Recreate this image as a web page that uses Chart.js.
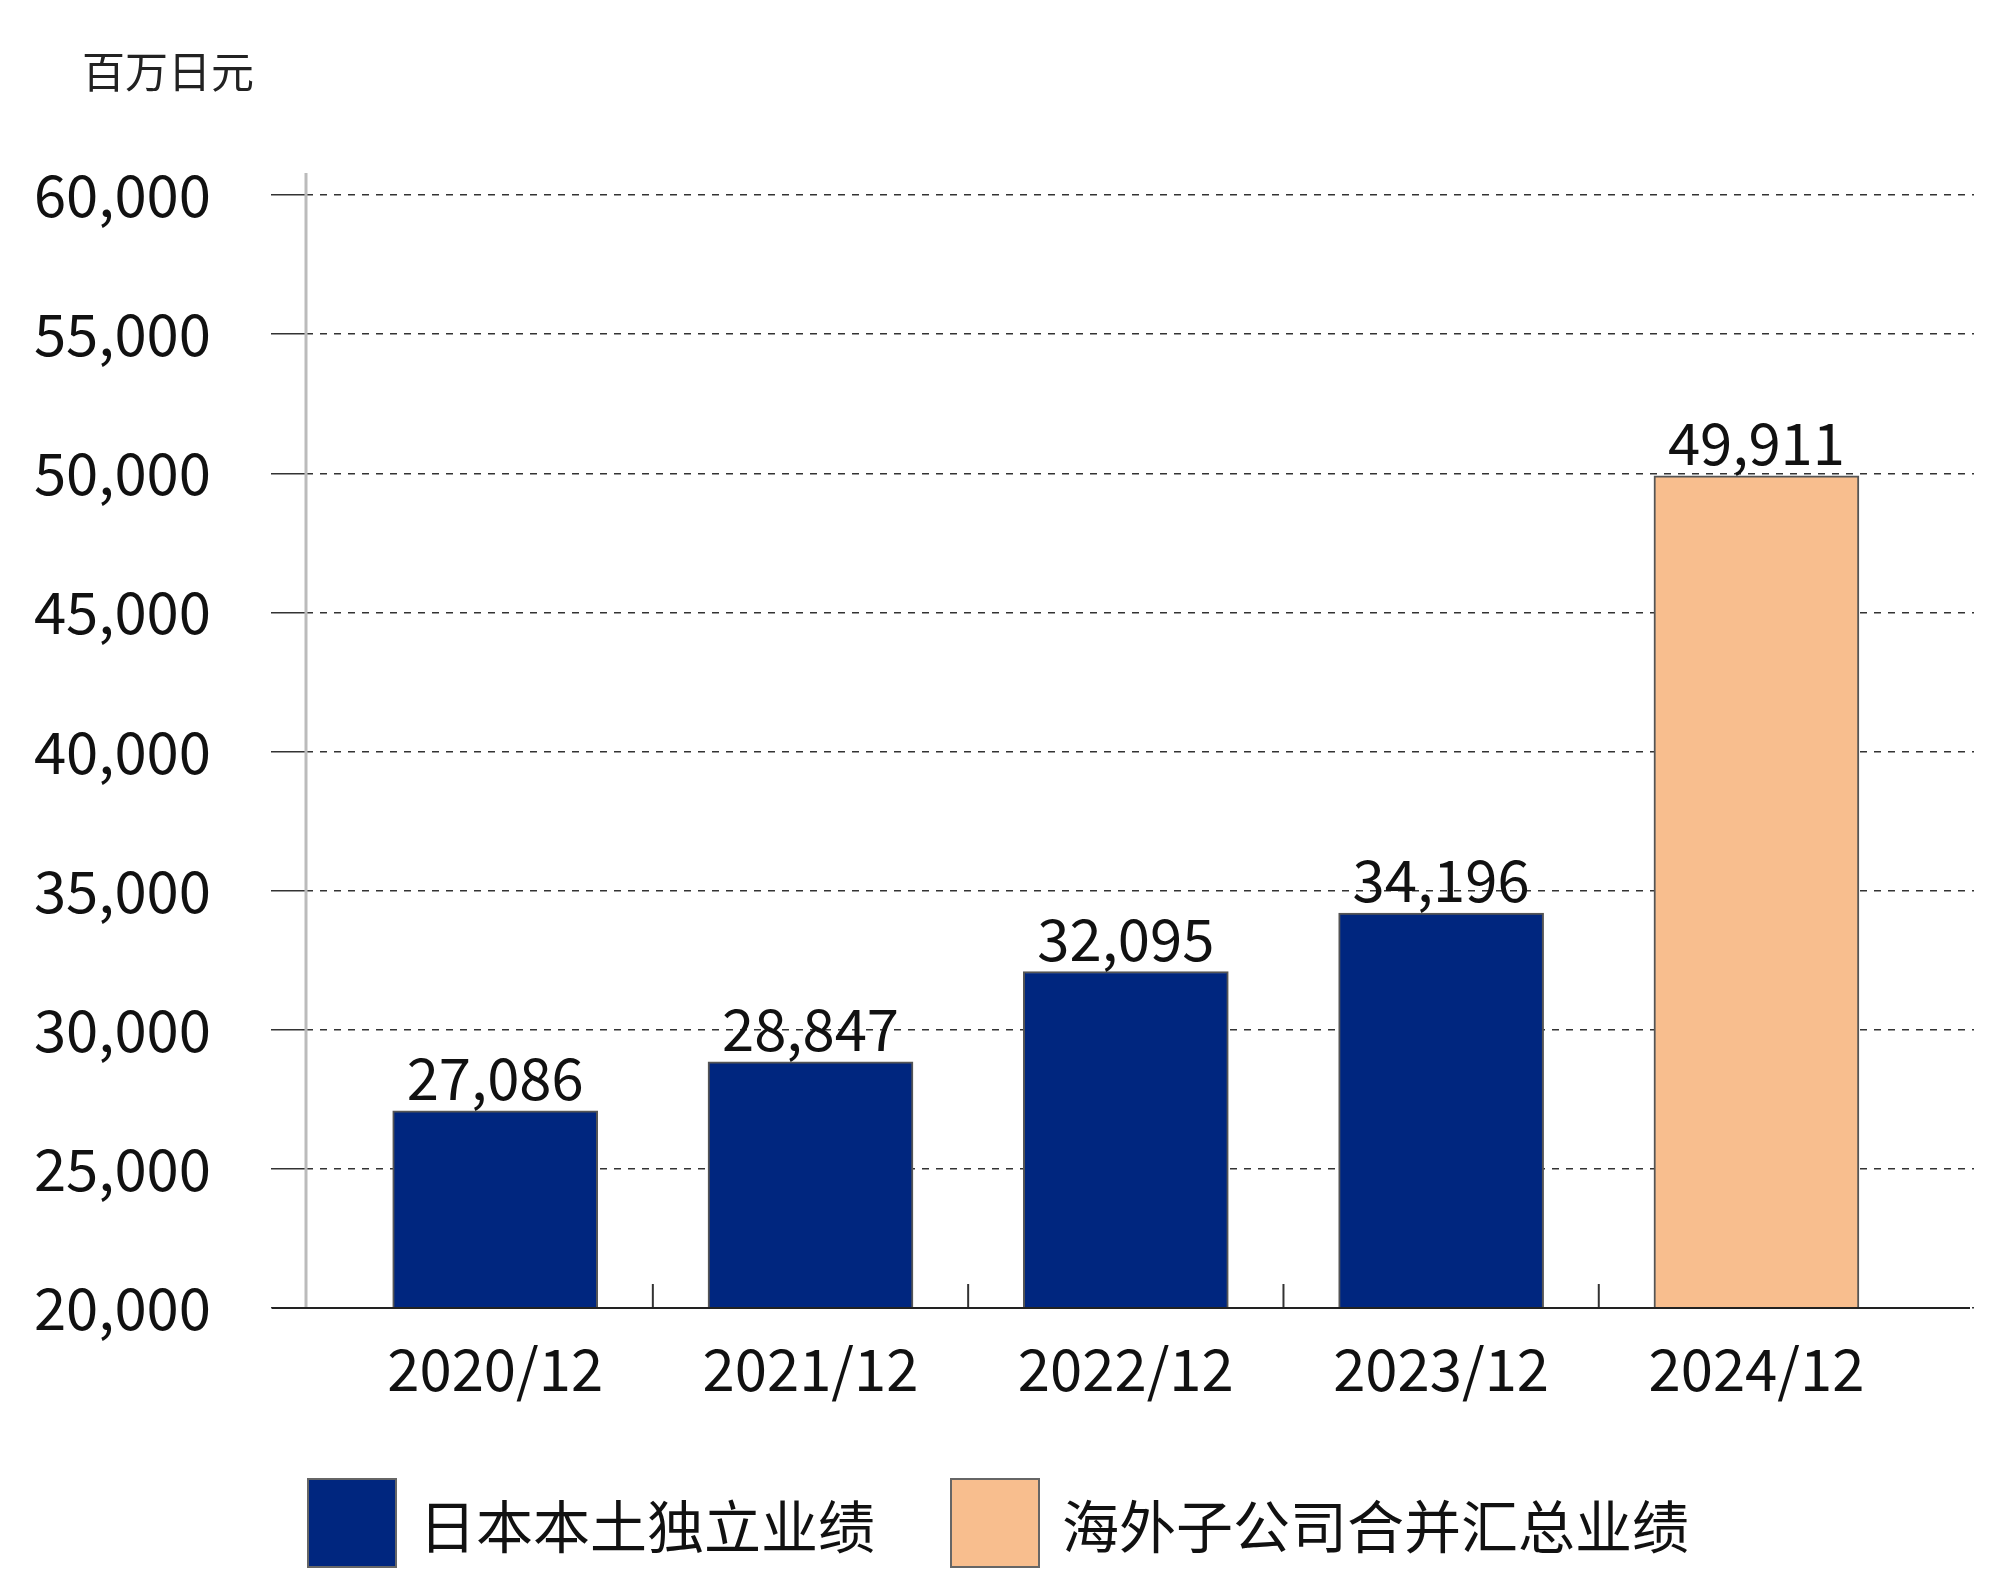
<!DOCTYPE html>
<html>
<head>
<meta charset="utf-8">
<script src="https://cdn.jsdelivr.net/npm/chart.js@4"></script>
<style>
  body { margin: 0; width: 2000px; height: 1592px; background: #fff; position: relative; font-family: "Noto Sans CJK SC", sans-serif; }
  #wrap { position: absolute; left: 0; top: 0; width: 2000px; height: 1592px; }
  .unit { position: absolute; left: 82px; top: 38px; font-size: 43px; color: #222; }
  .legend { position: absolute; top: 1478px; display: flex; align-items: center; font-size: 57px; color: #111; }
  .legend span.box { display: inline-block; width: 90px; height: 90px; border: 2px solid #666; margin-right: 22px; box-sizing: border-box; }
</style>
</head>
<body>
<div id="wrap"><canvas id="chart"></canvas></div>
<div class="unit">百万日元</div>
<div class="legend" style="left:307px"><span class="box" style="background:#00267F"></span>日本本土独立业绩</div>
<div class="legend" style="left:950px"><span class="box" style="background:#F8BE8E"></span>海外子公司合并汇总业绩</div>
<script>
// 数据
const periods = ['2020/12', '2021/12', '2022/12', '2023/12', '2024/12'];
const revenue = [27086, 28847, 32095, 34196, 49911];
const barColors = ['#00267F', '#00267F', '#00267F', '#00267F', '#F8BE8E'];
const yTicks = [20000, 25000, 30000, 35000, 40000, 45000, 50000, 55000, 60000];

const FONT = '"Noto Sans CJK SC", sans-serif';

// 柱顶数值 + 分类分隔刻度
const extras = {
  id: 'extras',
  afterDatasetsDraw(chart) {
    const { ctx } = chart;
    const meta = chart.getDatasetMeta(0);
    ctx.save();
    ctx.font = '58px ' + FONT;
    ctx.fillStyle = '#111';
    ctx.textAlign = 'center';
    ctx.textBaseline = 'bottom';
    meta.data.forEach((bar, i) => {
      ctx.fillText(revenue[i].toLocaleString('en-US'), bar.x, bar.y - 4);
    });
    const x = chart.scales.x, y0 = chart.chartArea.bottom;
    ctx.strokeStyle = '#333';
    ctx.lineWidth = 2;
    for (let i = 0; i < periods.length - 1; i++) {
      const px = x.getPixelForValue(i + 0.5);
      ctx.beginPath(); ctx.moveTo(px, y0); ctx.lineTo(px, y0 - 24); ctx.stroke();
    }
    // y 轴线向上延伸
    ctx.strokeStyle = '#bbb';
    ctx.lineWidth = 3;
    ctx.beginPath(); ctx.moveTo(306, chart.chartArea.top - 22); ctx.lineTo(306, y0); ctx.stroke();
    // x 轴线向左延伸
    ctx.strokeStyle = '#222';
    ctx.lineWidth = 2;
    ctx.beginPath(); ctx.moveTo(272, y0); ctx.lineTo(1970, y0); ctx.stroke();
    ctx.restore();
  }
};

new Chart(document.getElementById('chart'), {
  type: 'bar',
  data: {
    datasets: [{
      data: revenue.map((v, i) => ({ x: i, y: v })),
      backgroundColor: barColors,
      borderColor: '#555',
      borderWidth: 2,
      barThickness: 205
    }]
  },
  options: {
    responsive: true,
    maintainAspectRatio: false,
    animation: false,
    layout: { padding: { top: 195, right: 26, left: 0, bottom: 0 } },
    plugins: { legend: { display: false }, tooltip: { enabled: false } },
    scales: {
      x: {
        type: 'linear',
        offset: false,
        min: -0.6,
        max: 4.69,
        afterBuildTicks: s => { s.ticks = periods.map((p, i) => ({ value: i })); },
        afterFit: s => { s.height = 284; },
        grid: { display: false, offset: false },
        border: { display: false },
        ticks: {
          callback: v => periods[v],
          font: { family: FONT, size: 58 },
          color: '#111',
          padding: 18,
          maxRotation: 0
        }
      },
      y: {
        min: 20000,
        max: 60000,
        afterBuildTicks: s => { s.ticks = yTicks.map(v => ({ value: v })); },
        afterFit: s => { s.width = 306; },
        border: { display: false, dash: [7, 7] },
        grid: {
          color: '#333',
          lineWidth: 1.5,
          tickLength: 35,
          tickBorderDash: []
        },
        ticks: {
          callback: v => v.toLocaleString('en-US'),
          font: { family: FONT, size: 58 },
          color: '#111',
          padding: 60
        }
      }
    }
  },
  plugins: [extras]
});
</script>
</body>
</html>
